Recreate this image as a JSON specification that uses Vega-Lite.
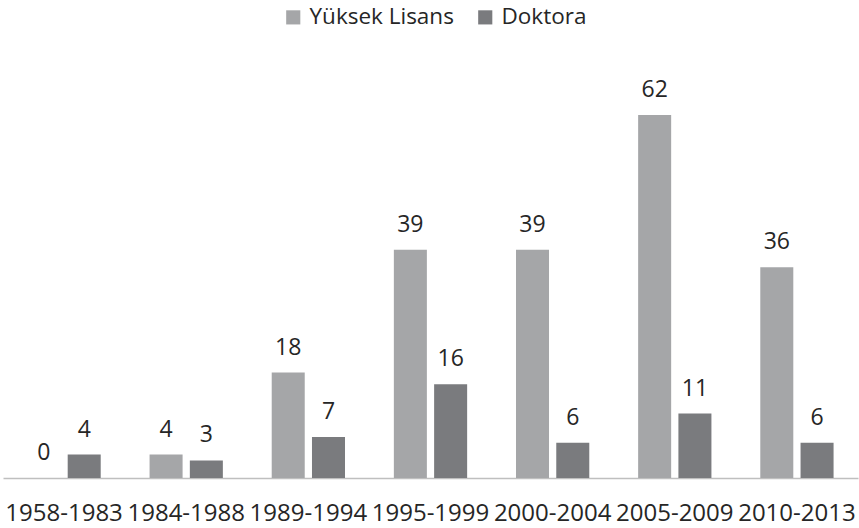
{
  "$schema": "https://vega.github.io/schema/vega-lite/v6.json",
  "width": 855,
  "height": 363,
  "autosize": {"type": "none"},
  "padding": {"left": 3, "top": 115, "right": 1, "bottom": 50},
  "background": "white",
  "config": {"view": {"stroke": null}, "font": "Open Sans"},
  "data": {
    "values": [
      {"period": "1958-1983", "series": "Yüksek Lisans", "value": 0},
      {"period": "1958-1983", "series": "Doktora", "value": 4},
      {"period": "1984-1988", "series": "Yüksek Lisans", "value": 4},
      {"period": "1984-1988", "series": "Doktora", "value": 3},
      {"period": "1989-1994", "series": "Yüksek Lisans", "value": 18},
      {"period": "1989-1994", "series": "Doktora", "value": 7},
      {"period": "1995-1999", "series": "Yüksek Lisans", "value": 39},
      {"period": "1995-1999", "series": "Doktora", "value": 16},
      {"period": "2000-2004", "series": "Yüksek Lisans", "value": 39},
      {"period": "2000-2004", "series": "Doktora", "value": 6},
      {"period": "2005-2009", "series": "Yüksek Lisans", "value": 62},
      {"period": "2005-2009", "series": "Doktora", "value": 11},
      {"period": "2010-2013", "series": "Yüksek Lisans", "value": 36},
      {"period": "2010-2013", "series": "Doktora", "value": 6}
    ]
  },
  "encoding": {
    "x": {
      "field": "period", "type": "nominal", "sort": null,
      "scale": {"paddingInner": 0.4, "paddingOuter": 0.2},
      "axis": {"title": null, "labelAngle": 0, "ticks": false, "labelFontSize": 24, "labelColor": "#262626", "labelPadding": 23, "domainColor": "#bfbfbf", "domainWidth": 1.5, "grid": false}
    },
    "xOffset": {"field": "series", "type": "nominal", "sort": ["Yüksek Lisans", "Doktora"], "scale": {"paddingInner": 0.18}},
    "y": {"field": "value", "type": "quantitative", "scale": {"domain": [0, 62], "nice": false}, "axis": null}
  },
  "layer": [
    {
      "mark": {"type": "bar"},
      "encoding": {
        "color": {
          "field": "series", "type": "nominal", "sort": ["Yüksek Lisans", "Doktora"],
          "scale": {"domain": ["Yüksek Lisans", "Doktora"], "range": ["#a5a6a8", "#7a7b7e"]},
          "legend": {"title": null, "orient": "none", "direction": "horizontal", "legendX": 279, "legendY": -109, "symbolType": "square", "symbolSize": 200, "symbolStrokeWidth": 0, "labelFontSize": 22.5, "labelColor": "#262626", "columnPadding": 20, "labelOffset": 5}
        }
      }
    },
    {
      "mark": {"type": "text", "baseline": "alphabetic", "dy": -18, "fontSize": 23, "color": "#262626"},
      "encoding": {"text": {"field": "value", "type": "quantitative"}}
    }
  ]
}
